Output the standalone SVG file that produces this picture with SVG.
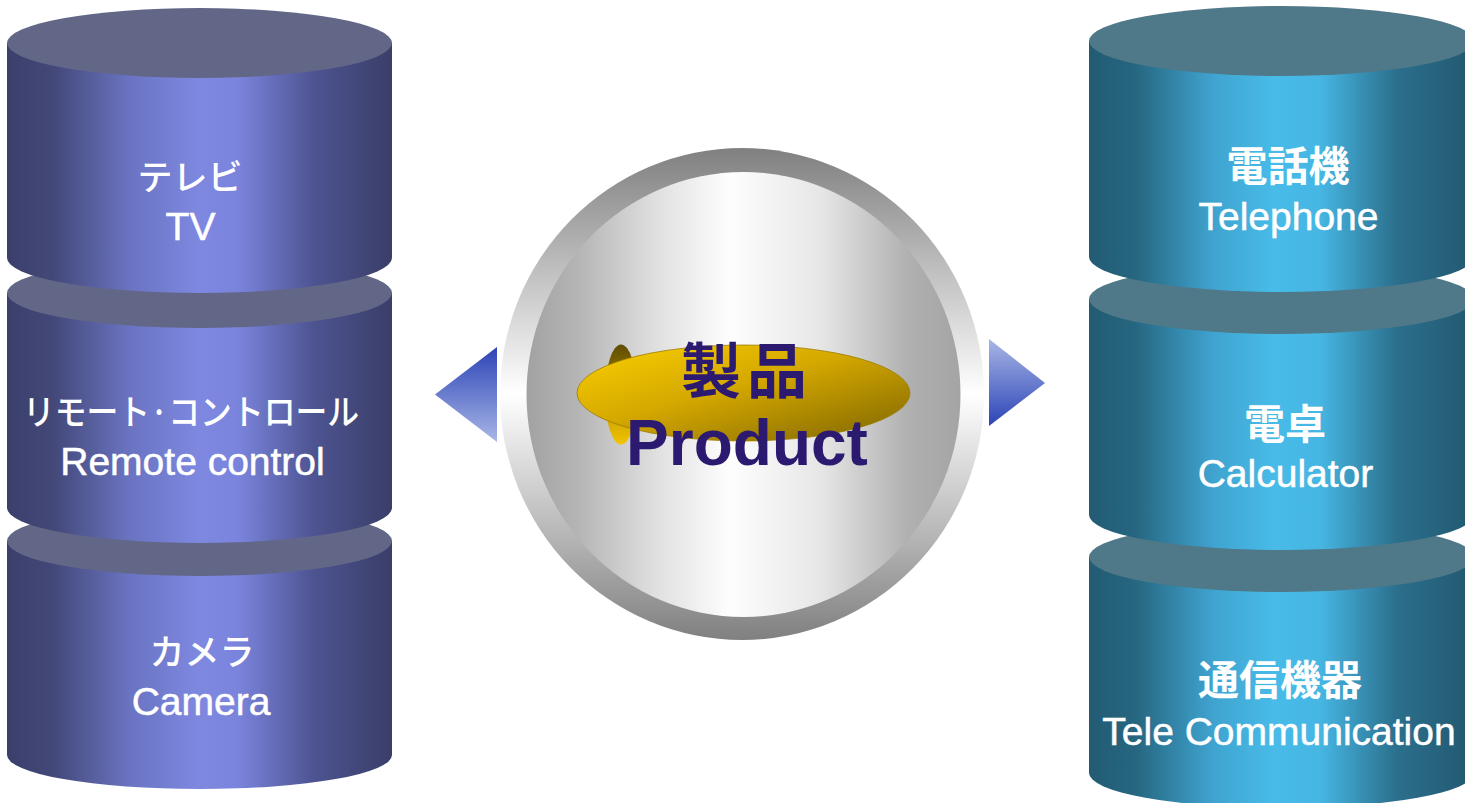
<svg xmlns="http://www.w3.org/2000/svg" width="1465" height="803" viewBox="0 0 1465 803">
  <defs>
    <linearGradient id="bodyL" x1="0" y1="0" x2="1" y2="0">
      <stop offset="0" stop-color="#3b3f6c"/>
      <stop offset="0.12" stop-color="#434878"/>
      <stop offset="0.32" stop-color="#6a74c2"/>
      <stop offset="0.5" stop-color="#7e88e0"/>
      <stop offset="0.6" stop-color="#7a84dc"/>
      <stop offset="0.8" stop-color="#4d5390"/>
      <stop offset="1" stop-color="#3a3e68"/>
    </linearGradient>
    <linearGradient id="bodyR" x1="0" y1="0" x2="1" y2="0">
      <stop offset="0" stop-color="#235b73"/>
      <stop offset="0.12" stop-color="#266680"/>
      <stop offset="0.32" stop-color="#3fa3cf"/>
      <stop offset="0.48" stop-color="#48bbe8"/>
      <stop offset="0.6" stop-color="#46b6e3"/>
      <stop offset="0.8" stop-color="#2b6f8c"/>
      <stop offset="1" stop-color="#225870"/>
    </linearGradient>
    <linearGradient id="ring" x1="0" y1="0" x2="0" y2="1">
      <stop offset="0" stop-color="#808080"/>
      <stop offset="0.5" stop-color="#ffffff"/>
      <stop offset="1" stop-color="#808080"/>
    </linearGradient>
    <linearGradient id="disc" x1="0" y1="0" x2="1" y2="0">
      <stop offset="0" stop-color="#a2a2a2"/>
      <stop offset="0.12" stop-color="#b5b5b5"/>
      <stop offset="0.3" stop-color="#e0e0e0"/>
      <stop offset="0.47" stop-color="#fefefe"/>
      <stop offset="0.68" stop-color="#e6e6e6"/>
      <stop offset="0.88" stop-color="#b0b0b0"/>
      <stop offset="1" stop-color="#a4a4a4"/>
    </linearGradient>
    <linearGradient id="gold" x1="0" y1="0" x2="1" y2="1">
      <stop offset="0" stop-color="#fbd000"/>
      <stop offset="0.45" stop-color="#d4a800"/>
      <stop offset="1" stop-color="#7d6400"/>
    </linearGradient>
    <linearGradient id="tail" x1="0" y1="0" x2="0" y2="1">
      <stop offset="0" stop-color="#5e4c00"/>
      <stop offset="0.5" stop-color="#b08a00"/>
      <stop offset="1" stop-color="#f2c400"/>
    </linearGradient>
    <linearGradient id="arrowL" x1="0" y1="0" x2="0" y2="1">
      <stop offset="0" stop-color="#2c44b6"/>
      <stop offset="1" stop-color="#a8b6e6"/>
    </linearGradient>
    <linearGradient id="arrowR" x1="0" y1="0" x2="0" y2="1">
      <stop offset="0" stop-color="#a8b6e6"/>
      <stop offset="1" stop-color="#2c44b6"/>
    </linearGradient>
  </defs>
  <style>
    .topL { fill: #626788; }
    .topR { fill: #4f7888; }
    .jp { font-family: "Noto Sans CJK JP", "Noto Sans", sans-serif; fill: #ffffff; text-anchor: middle; font-weight: 500; }
    .jpb { font-family: "Noto Sans CJK JP", "Noto Sans", sans-serif; fill: #ffffff; text-anchor: middle; font-weight: bold; }
    .en { font-family: "Liberation Sans", Arial, sans-serif; fill: #ffffff; stroke: #ffffff; stroke-width: 0.5; text-anchor: middle; }
    .ctr { fill: #2b1a6f; text-anchor: middle; font-weight: bold; }
  </style>

  <g id="connectors">
    <polygon points="435,394.5 497,347 497,442" fill="url(#arrowL)"/>
    <polygon points="1045,383 989,339 989,426" fill="url(#arrowR)"/>
  </g>

  <!-- Left stack (draw bottom first) -->
  <g id="node-camera">
    <path d="M7,541 L7,755 A192.5,34 0 0 0 392,755 L392,541 Z" fill="url(#bodyL)"/>
    <ellipse class="topL" cx="199.5" cy="541" rx="192.5" ry="35"/>
    <text class="jp" x="202" y="665" font-size="35">カメラ</text>
    <text class="en" x="201" y="715" font-size="39">Camera</text>
  </g>
  <g id="node-remote">
    <path d="M7,293 L7,508 A192.5,35 0 0 0 392,508 L392,293 Z" fill="url(#bodyL)"/>
    <ellipse class="topL" cx="199.5" cy="293" rx="192.5" ry="35"/>
    <text class="jp" x="191" y="425" font-size="35" textLength="336" lengthAdjust="spacingAndGlyphs">リモート·コントロール</text>
    <text class="en" x="192.5" y="475" font-size="39">Remote control</text>
  </g>
  <g id="node-tv">
    <path d="M7,43 L7,258 A192.5,35 0 0 0 392,258 L392,43 Z" fill="url(#bodyL)"/>
    <ellipse class="topL" cx="199.5" cy="43" rx="192.5" ry="35"/>
    <text class="jp" x="190" y="190" font-size="35">テレビ</text>
    <text class="en" x="190.5" y="240" font-size="39">TV</text>
  </g>

  <!-- Right stack -->
  <g id="node-telecom">
    <path d="M1089,557 L1089,773 A192.5,35 0 0 0 1474,773 L1474,557 Z" fill="url(#bodyR)"/>
    <ellipse class="topR" cx="1281.5" cy="557" rx="192.5" ry="35"/>
    <text class="jpb" x="1280" y="695" font-size="41">通信機器</text>
    <text class="en" x="1279" y="745" font-size="39">Tele Communication</text>
  </g>
  <g id="node-calculator">
    <path d="M1089,299 L1089,515 A192.5,35 0 0 0 1474,515 L1474,299 Z" fill="url(#bodyR)"/>
    <ellipse class="topR" cx="1281.5" cy="299" rx="192.5" ry="35"/>
    <text class="jpb" x="1285" y="439" font-size="41">電卓</text>
    <text class="en" x="1285.5" y="487" font-size="39">Calculator</text>
  </g>
  <g id="node-telephone">
    <path d="M1089,41 L1089,257 A192.5,35 0 0 0 1474,257 L1474,41 Z" fill="url(#bodyR)"/>
    <ellipse class="topR" cx="1281.5" cy="41" rx="192.5" ry="35"/>
    <text class="jpb" x="1288" y="181" font-size="41">電話機</text>
    <text class="en" x="1288.5" y="230" font-size="39">Telephone</text>
  </g>

  <!-- Center -->
  <g id="node-product">
    <ellipse cx="742" cy="394" rx="242" ry="246" fill="url(#ring)"/>
    <ellipse cx="743.5" cy="394.5" rx="217" ry="222.5" fill="url(#disc)"/>
    <ellipse cx="621" cy="394.5" rx="16" ry="50" fill="url(#tail)"/>
    <ellipse cx="743.5" cy="393" rx="166.5" ry="48" fill="url(#gold)" stroke="#9c7c00" stroke-width="0.8"/>
    <text class="ctr" x="747" y="393" font-size="60" letter-spacing="6" font-family="'Noto Sans CJK JP', sans-serif">製品</text>
    <text class="ctr" x="747" y="465" font-size="64" font-family="'Liberation Sans', Arial, sans-serif">Product</text>
  </g>
</svg>
